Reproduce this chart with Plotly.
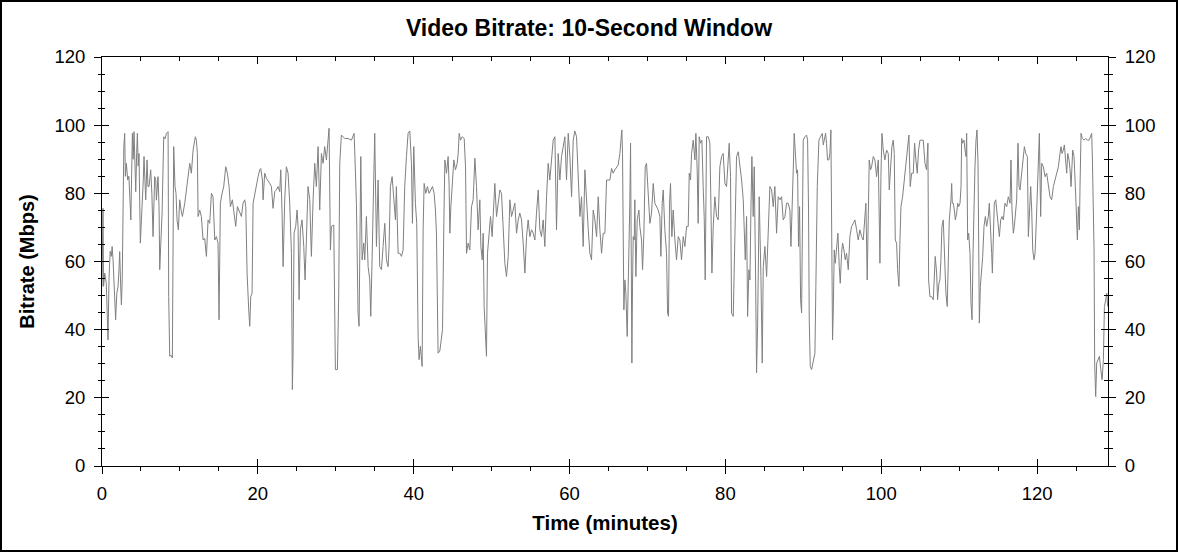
# video bitrate chart, 10 second window
# values

import plotly.graph_objects as go

minutes = [
    0.00, 0.13, 0.20, 0.35, 0.55, 0.77, 0.90, 1.05, 1.20, 1.30, 1.42, 1.55, 1.63, 1.75, 1.90, 2.06, 2.20, 2.27, 2.40, 2.49,
    2.60, 2.70, 2.80, 2.91, 3.00, 3.13, 3.30, 3.45, 3.55, 3.70, 3.90, 4.00, 4.11, 4.25, 4.33, 4.45, 4.54, 4.65, 4.75, 4.92,
    5.05, 5.18, 5.30, 5.39, 5.50, 5.61, 5.78, 5.90, 6.04, 6.25, 6.40, 6.46, 6.55, 6.76, 6.90, 6.98, 7.19, 7.32, 7.41, 7.53,
    7.71, 7.92, 8.10, 8.26, 8.48, 8.56, 8.69, 8.85, 9.03, 9.20, 9.37, 9.50, 9.63, 9.80, 9.97, 10.15, 10.32, 10.62, 10.83, 11.04,
    11.26, 11.47, 11.69, 11.98, 12.11, 12.24, 12.33, 12.54, 12.75, 12.97, 13.18, 13.40, 13.61, 13.82, 14.04, 14.25, 14.47, 14.68, 14.89, 15.02,
    15.19, 15.41, 15.62, 15.88, 16.09, 16.31, 16.48, 16.73, 16.95, 17.16, 17.38, 17.68, 17.89, 18.10, 18.32, 18.45, 18.62, 18.83, 18.96, 19.09,
    19.26, 19.39, 19.60, 19.82, 20.03, 20.24, 20.37, 20.59, 20.67, 20.88, 21.10, 21.53,
    21.74, 21.95, 22.17, 22.38, 22.59, 22.81, 22.94, 23.11, 23.24, 23.45, 23.66, 23.88, 24.09, 24.31, 24.43, 24.52, 24.65, 24.86, 25.03, 25.16,
    25.29, 25.46, 25.67, 25.89, 26.06, 26.23, 26.44, 26.66, 26.87, 27.09, 27.30, 27.51, 27.73, 27.94, 28.16, 28.37, 28.58, 28.80, 29.01, 29.14,
    29.31, 29.44, 29.74, 29.95, 30.21, 30.38, 30.51, 30.72, 31.15, 31.58, 32.01, 32.35, 32.43, 32.65, 32.86, 32.99, 33.21, 33.38, 33.59, 33.72,
    33.93, 34.15, 34.36, 34.49, 34.66, 34.79, 35.00, 35.22, 35.43, 35.64, 35.86, 36.07, 36.29, 36.50, 36.71, 36.84, 37.01, 37.23, 37.44, 37.66,
    37.78, 38.00, 38.21, 38.43, 38.64, 38.85, 39.07, 39.28, 39.50, 39.71, 39.84, 40.01, 40.22, 40.39, 40.57, 40.69, 40.86, 41.08, 41.21, 41.34,
    41.55, 41.76, 41.98, 42.19, 42.41, 42.62, 42.79, 42.92, 43.13,
    43.35, 43.70, 43.87, 44.00, 44.21, 44.42, 44.55, 44.64, 44.77, 44.94, 45.15, 45.36, 45.58, 45.71, 45.84, 46.01, 46.22, 46.48, 46.65, 46.78,
    46.99, 47.20, 47.42, 47.63, 47.85, 48.06, 48.27, 48.49, 48.62, 48.79, 48.92, 49.04, 49.22, 49.34, 49.47, 49.64, 49.86, 50.07, 50.20, 50.41,
    50.63, 50.84, 51.06, 51.27, 51.48, 51.70, 51.91, 52.13, 52.34, 52.55, 52.77, 52.98, 53.20, 53.41, 53.62, 53.84, 54.05, 54.27, 54.48, 54.69,
    54.91, 55.12, 55.34, 55.55, 55.76, 55.98, 56.19, 56.40, 56.62, 56.83, 57.05, 57.26, 57.47, 57.69, 57.90, 58.12, 58.33, 58.54, 58.76, 58.97,
    59.19, 59.40, 59.61, 59.83, 60.04, 60.26, 60.47, 60.68, 60.90, 61.11, 61.33, 61.54, 61.75, 61.97, 62.18, 62.40, 62.61, 62.82, 63.04, 63.25,
    63.47, 63.68, 63.89, 64.11, 64.32, 64.54, 64.75, 65.18,
    65.39, 65.60, 65.82, 66.03, 66.24, 66.46, 66.59, 66.71, 66.80, 66.89, 66.97, 67.10, 67.23, 67.40, 67.53, 67.66, 67.74, 67.83, 67.91, 68.00,
    68.08, 68.17, 68.30, 68.38, 68.51, 68.68, 68.90, 69.02, 69.24, 69.37, 69.54, 69.71, 69.88, 70.09, 70.31, 70.52, 70.74, 70.95, 71.16, 71.38,
    71.59, 71.72, 71.89, 72.02, 72.23, 72.45, 72.58, 72.70, 72.83, 72.96, 73.13, 73.30, 73.52, 73.73, 73.95, 74.16, 74.37, 74.59, 74.80, 75.02,
    75.23, 75.36, 75.53, 75.66, 75.87, 76.09, 76.21, 76.38, 76.51, 76.64, 76.81, 76.98, 77.15, 77.28, 77.41, 77.58, 77.80, 78.01, 78.14, 78.27,
    78.44, 78.65, 78.87, 79.08, 79.29, 79.51, 79.72, 79.94, 80.15, 80.36, 80.49, 80.66, 80.79, 81.01, 81.22, 81.43, 81.65, 81.86, 82.08, 82.29,
    82.42, 82.55, 82.72, 82.85, 83.02, 83.15, 83.27, 83.40, 83.57, 83.70, 83.87, 84.00, 84.13, 84.34, 84.56, 84.73, 84.86, 85.07, 85.29, 85.50,
    85.71, 85.93, 86.14, 86.35, 86.57, 86.78, 87.00,
    87.21, 87.42, 87.64, 87.85, 88.06, 88.28, 88.41, 88.58, 88.71, 88.83, 89.00, 89.13, 89.26, 89.39, 89.52, 89.65, 89.78, 89.86, 89.99, 90.20,
    90.42, 90.55, 90.67, 90.76, 90.89, 91.06, 91.27, 91.49, 91.61, 91.79, 92.00, 92.21, 92.43, 92.56, 92.68, 92.86, 92.98, 93.11, 93.28, 93.41,
    93.54, 93.67, 93.75, 93.84, 93.97, 94.10, 94.27, 94.44, 94.61, 94.74, 94.91, 95.04, 95.21, 95.38, 95.55, 95.77, 95.98, 96.19, 96.41, 96.62,
    96.84, 97.05, 97.26, 97.48, 97.69, 97.91, 98.03, 98.20, 98.33, 98.46, 98.63, 98.76, 98.98, 99.19, 99.40, 99.62, 99.75, 99.83, 99.96, 100.09,
    100.26, 100.47, 100.69, 100.90, 101.03, 101.20, 101.37, 101.54, 101.67, 101.80, 101.97, 102.10, 102.27, 102.40, 102.53, 102.74, 102.95, 103.17, 103.38, 103.55,
    103.72, 103.90, 104.11, 104.28, 104.45, 104.62, 104.79, 104.97, 105.18, 105.39, 105.61, 105.82, 105.99, 106.08, 106.25, 106.46, 106.68, 106.81, 106.93, 107.11,
    107.23, 107.40, 107.53, 107.66, 107.79, 107.96, 108.13, 108.30, 108.47, 108.60, 108.73,
    108.95, 109.04, 109.12, 109.25, 109.38, 109.51, 109.68, 109.81, 109.94, 110.11, 110.24, 110.32, 110.45, 110.62, 110.75, 110.88, 110.96, 111.09, 111.22, 111.39,
    111.52, 111.65, 111.78, 111.90, 112.03, 112.16, 112.29, 112.42, 112.50, 112.59, 112.72, 112.89, 113.02, 113.19, 113.36, 113.53, 113.74, 113.87, 114.04, 114.17,
    114.26, 114.39, 114.51, 114.69, 114.81, 115.03, 115.16, 115.33, 115.50, 115.67, 115.88, 116.10, 116.31, 116.53, 116.65, 116.78, 116.95, 117.08, 117.21, 117.38,
    117.55, 117.68, 117.81, 117.94, 118.11, 118.24, 118.37, 118.54, 118.75, 118.88, 119.01, 119.18, 119.31, 119.44, 119.61, 119.74, 119.91, 120.03, 120.16, 120.29,
    120.46, 120.59, 120.81, 121.02, 121.23, 121.45, 121.66, 121.87, 122.09, 122.30, 122.52, 122.73, 122.94, 123.07, 123.20, 123.37, 123.50, 123.63, 123.80, 123.93,
    124.10, 124.23, 124.36, 124.57, 124.74, 124.91, 125.04, 125.17, 125.30, 125.43, 125.51, 125.64, 125.81, 126.02, 126.24, 126.45, 126.67, 126.88, 127.01, 127.10,
    127.22, 127.31, 127.39, 127.52, 127.65, 127.87, 128.00, 128.17, 128.34, 128.51, 128.64, 128.81, 128.94, 129.06,
]

mbps = [
    52.7, 75.6, 52.7, 56.6, 53.6, 37.0, 55.0, 63.0, 61.5, 64.4, 60.5, 55.0, 48.8, 42.9, 50.7, 52.7, 58.5, 62.9, 52.7, 47.3,
    55.0, 84.9, 93.7, 97.6, 85.0, 88.8, 83.9, 85.0, 78.0, 72.2, 97.6, 90.0, 98.1, 90.0, 80.5, 92.0, 97.6, 88.0, 91.7, 65.4,
    72.0, 74.2, 84.0, 90.8, 85.0, 78.1, 89.8, 82.0, 82.0, 86.9, 80.0, 74.2, 67.3, 84.9, 84.0, 78.0, 84.9, 76.1, 57.6, 64.4,
    74.2, 96.6, 96.0, 97.6, 98.1, 49.7, 32.2, 32.5, 31.7, 93.7, 82.0, 80.0, 72.2, 69.3, 78.1, 75.0, 73.2, 77.1, 81.0, 83.9,
    88.8, 85.9, 92.7, 96.6, 95.6, 91.7, 73.2, 75.1, 73.2, 66.3, 66.8, 61.5, 72.2, 71.2, 80.0, 79.0, 66.3, 67.3, 65.4, 42.9,
    77.1, 80.0, 82.0, 87.8, 85.9, 82.0, 76.1, 78.1, 74.2, 70.3, 76.1, 74.2, 73.2, 77.1, 78.1, 76.1, 56.6, 45.8, 41.0, 49.7,
    50.7, 77.1, 80.0, 82.0, 84.9, 86.9, 87.3, 83.9, 78.1, 85.9, 84.4, 82.9,
    82.0, 75.6, 80.5, 81.0, 82.0, 80.5, 86.9, 74.2, 58.5, 78.1, 87.8, 85.9, 77.1, 62.4, 22.4, 33.1, 68.3, 70.3, 75.1, 70.3,
    48.8, 69.3, 72.2, 64.4, 54.6, 66.3, 82.0, 78.1, 61.5, 78.1, 88.8, 82.0, 93.7, 75.1, 91.7, 88.8, 93.7, 89.8, 97.6, 99.1,
    63.4, 70.3, 70.7, 28.3, 28.3, 50.7, 88.8, 97.1, 96.1, 96.1, 95.6, 97.6, 92.7, 77.1, 44.9, 41.0, 90.8, 60.5, 65.4, 60.5,
    73.2, 58.5, 54.6, 43.9, 60.5, 77.1, 97.6, 64.4, 83.9, 58.5, 57.6, 64.4, 71.2, 60.5, 58.5, 64.4, 82.0, 84.9, 79.0, 72.2,
    82.0, 62.4, 62.4, 61.5, 63.4, 82.0, 90.8, 97.6, 98.3, 88.8, 71.2, 93.7, 77.1, 71.2, 38.0, 31.2, 35.1, 29.2, 69.3, 82.9,
    80.0, 82.0, 80.0, 81.0, 82.0, 80.0, 75.1, 68.3, 33.1,
    33.7, 40.0, 71.2, 89.8, 85.9, 90.8, 82.0, 68.3, 76.1, 83.9, 89.8, 86.9, 88.8, 91.7, 97.6, 95.6, 96.6, 96.1, 87.8, 62.4,
    65.4, 63.4, 76.1, 78.1, 90.3, 82.0, 69.3, 78.1, 64.4, 60.5, 68.3, 46.8, 34.1, 32.2, 62.4, 67.3, 73.2, 67.3, 72.2, 82.9,
    73.2, 78.1, 81.0, 80.0, 67.3, 59.5, 55.6, 61.5, 78.1, 73.2, 75.1, 77.1, 68.3, 72.2, 74.2, 72.2, 65.4, 56.6, 67.3, 72.2,
    67.3, 69.3, 68.3, 66.3, 74.2, 81.0, 69.3, 67.3, 72.2, 64.4, 79.0, 88.8, 83.9, 88.8, 95.6, 96.6, 69.3, 91.7, 83.9, 90.8,
    93.7, 96.6, 83.9, 97.6, 90.8, 79.0, 95.6, 98.3, 96.6, 82.0, 73.2, 79.0, 64.4, 86.9, 77.1, 69.3, 62.4, 60.5, 75.1, 72.2,
    67.3, 79.0, 69.3, 62.4, 68.3, 68.3, 83.9, 83.9,
    87.3, 85.9, 86.9, 87.8, 88.3, 91.7, 94.7, 98.6, 91.7, 62.4, 45.8, 54.6, 50.7, 38.0, 50.7, 66.3, 78.1, 94.7, 58.5, 30.2,
    52.7, 67.3, 66.3, 78.1, 55.6, 72.2, 75.1, 70.3, 66.3, 57.6, 68.3, 87.8, 88.8, 79.0, 71.2, 74.2, 82.9, 77.1, 76.1, 75.1,
    73.2, 61.5, 77.1, 81.0, 69.3, 62.4, 44.9, 43.9, 77.1, 82.9, 67.3, 75.1, 66.3, 60.5, 67.3, 66.3, 60.5, 67.3, 64.4, 70.3,
    70.3, 85.9, 83.9, 91.7, 95.6, 89.8, 97.6, 86.9, 71.2, 96.6, 94.7, 95.6, 82.0, 73.2, 54.6, 96.6, 96.6, 94.7, 77.1, 56.6,
    70.3, 79.0, 73.2, 72.2, 87.8, 90.8, 91.7, 82.9, 82.0, 92.7, 94.7, 84.9, 44.9, 43.9, 72.2, 90.8, 92.2, 88.8, 83.9, 78.1,
    64.4, 60.5, 73.2, 43.9, 57.6, 54.6, 74.2, 90.8, 73.2, 87.8, 56.6, 27.3, 41.0, 79.0, 55.6, 30.2, 58.5, 64.4, 55.6, 71.2,
    82.0, 81.0, 76.1, 82.0, 68.3, 79.0, 78.1,
    79.0, 72.2, 73.2, 77.1, 77.1, 75.1, 64.4, 74.2, 86.9, 97.6, 89.8, 85.9, 86.9, 64.4, 76.1, 48.8, 44.9, 72.2, 95.6, 96.6,
    97.1, 95.6, 75.1, 42.9, 29.2, 28.3, 31.2, 33.1, 52.7, 82.0, 95.6, 96.6, 97.6, 94.2, 95.6, 97.6, 94.7, 89.8, 89.8, 91.7,
    98.6, 70.3, 37.0, 44.9, 63.4, 59.5, 64.4, 68.3, 58.5, 53.6, 62.4, 65.4, 63.4, 60.5, 62.4, 57.6, 67.3, 70.3, 71.2, 72.2,
    69.3, 66.3, 69.3, 67.3, 66.3, 72.2, 77.1, 54.6, 82.0, 89.8, 86.9, 87.8, 90.8, 89.8, 84.9, 89.8, 72.2, 59.5, 84.9, 97.6,
    92.7, 89.8, 92.7, 91.7, 81.0, 89.8, 93.7, 95.6, 91.7, 66.3, 65.4, 57.6, 52.7, 66.3, 76.1, 79.0, 83.9, 86.9, 91.7, 97.1,
    82.0, 85.9, 85.9, 94.7, 89.8, 85.9, 92.7, 95.6, 95.6, 95.6, 88.8, 86.9, 94.7, 54.6, 49.7, 49.7, 48.8, 54.6, 61.5, 56.6,
    48.8, 53.6, 54.6, 60.5, 70.3, 72.2, 59.5, 50.7, 46.8, 62.4, 72.2,
    78.1, 82.9, 77.1, 77.1, 75.1, 72.2, 74.2, 77.1, 76.1, 77.1, 82.0, 96.1, 94.7, 95.6, 92.7, 90.8, 97.6, 66.3, 68.3, 62.4,
    47.8, 42.9, 62.4, 79.0, 87.8, 95.6, 98.6, 88.8, 49.7, 41.9, 52.7, 56.6, 61.5, 70.3, 73.2, 70.3, 73.2, 77.1, 70.3, 62.4,
    56.6, 72.2, 77.1, 78.1, 75.1, 70.3, 67.3, 72.2, 73.2, 72.2, 77.1, 76.1, 79.0, 77.1, 89.8, 75.1, 68.3, 70.3, 75.1, 78.1,
    94.7, 82.0, 81.0, 83.9, 88.8, 90.8, 93.7, 91.7, 90.8, 67.3, 75.1, 82.0, 75.1, 63.4, 60.5, 62.4, 72.2, 79.0, 89.8, 97.6,
    73.2, 88.8, 87.8, 84.9, 85.9, 82.0, 79.0, 78.1, 82.0, 83.9, 85.9, 87.8, 91.7, 93.7, 91.7, 92.7, 94.2, 90.8, 85.9, 91.7,
    89.8, 86.9, 82.0, 92.7, 90.8, 82.0, 73.2, 66.3, 76.1, 69.3, 82.0, 97.6, 96.1, 95.6, 96.1, 95.6, 95.6, 96.6, 97.6, 89.8,
    76.1, 63.4, 30.2, 20.4, 30.2, 31.2, 32.2, 28.3, 25.3, 31.2, 46.8, 48.8, 50.7, 46.8,
]

x_range = [0, 129.1]
y_range = [0, 120]

font = "Liberation Sans, Arial, sans-serif"

fig = go.Figure(go.Scatter(
    x=minutes, y=mbps, mode="lines",
    line=dict(color="#808080", width=1),
    showlegend=False, hoverinfo="x+y"))

# empty traces so the extra tick axes get drawn
for xa, ya in [("x2", "y"), ("x3", "y"), ("x", "y2"), ("x", "y3"), ("x", "y4")]:
    fig.add_trace(go.Scatter(x=[None], y=[None], xaxis=xa, yaxis=ya, mode="lines",
                             showlegend=False, hoverinfo="skip"))

common = dict(showgrid=False, zeroline=False, linecolor="black", tickcolor="black", tickwidth=1,
              dtick=20, tick0=0, fixedrange=True)

fig.update_layout(
    width=1178, height=552,
    paper_bgcolor="white", plot_bgcolor="white",
    margin=dict(l=102, r=70, t=57, b=86),
    font=dict(family=font, size=18.5, color="black"),
    title=dict(text="<b>Video Bitrate: 10-Second Window</b>", x=0.5, xref="container",
               y=1 - 28 / 552, yanchor="middle", font=dict(size=23)),
    # bottom axis: labels + outside ticks
    xaxis=dict(range=x_range, ticks="outside", ticklen=7, showline=True,
               minor=dict(dtick=5, ticks="outside", ticklen=4, tickcolor="black"),
               title=dict(text="<b>Time (minutes)</b>", font=dict(size=20.5), standoff=12),
               ticklabelstandoff=4, **common),
    # bottom axis: inner half of the major ticks
    xaxis2=dict(range=x_range, ticks="inside", ticklen=7, showline=False,
                overlaying="x", anchor="y", side="bottom", showticklabels=False, **common),
    # top edge
    xaxis3=dict(range=x_range, ticks="inside", ticklen=7, showline=True,
                minor=dict(dtick=5, ticks="inside", ticklen=4, tickcolor="black"),
                overlaying="x", anchor="y", side="top", showticklabels=False, **common),
    yaxis=dict(range=y_range, ticks="outside", ticklen=7, showline=True,
               minor=dict(dtick=5, ticks="outside", ticklen=3, tickcolor="black"),
               title=dict(text="<b>Bitrate (Mbps)</b>", font=dict(size=20), standoff=14),
               ticklabelstandoff=5, **common),
    yaxis2=dict(range=y_range, ticks="inside", ticklen=7, showline=False,
                minor=dict(dtick=5, ticks="inside", ticklen=3, tickcolor="black"),
                overlaying="y", anchor="x", side="left", showticklabels=False, **common),
    # right edge with its own labels
    yaxis3=dict(range=y_range, ticks="outside", ticklen=7, showline=True,
                minor=dict(dtick=5, ticks="outside", ticklen=4, tickcolor="black"),
                overlaying="y", anchor="x", side="right", showticklabels=True,
                ticklabelstandoff=5, **common),
    yaxis4=dict(range=y_range, ticks="inside", ticklen=7, showline=False,
                minor=dict(dtick=5, ticks="inside", ticklen=4, tickcolor="black"),
                overlaying="y", anchor="x", side="right", showticklabels=False, **common),
)

# frame round the whole picture
w = 1178 - 102 - 70
h = 552 - 57 - 86
fig.add_shape(type="rect", xref="paper", yref="paper",
              x0=-101 / w, x1=1 + 69 / w, y0=-85 / h, y1=1 + 56 / h,
              line=dict(color="black", width=2), layer="below")

# page body has an 8px margin by default, drop it so the chart sits at 0,0
fig.write_html("out.html", config={"displayModeBar": False},
               post_script="document.body.style.margin='0';document.body.style.overflow='hidden';")
